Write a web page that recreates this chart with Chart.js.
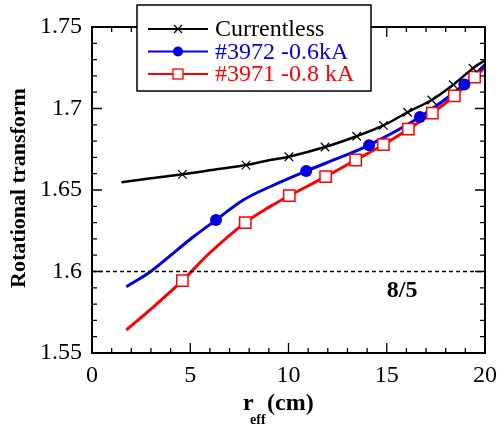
<!DOCTYPE html>
<html>
<head>
<meta charset="utf-8">
<script src="https://cdn.jsdelivr.net/npm/chart.js@4.4.0/dist/chart.umd.min.js"></script>
<style>
  html, body { margin: 0; padding: 0; background: #fff; }
  #wrap { width: 498px; height: 426px; }
</style>
</head>
<body>
<div id="wrap"><canvas id="myChart" width="498" height="426"></canvas></div>
<script>
// Datos (r_eff en cm, transformada rotacional)
const seriesLabels = ["Currentless", "#3972 -0.6kA", "#3971 -0.8 kA"];
const seriesColors = ["#000000", "#0000e0", "#ff0000"];

// curvas
const blackX = [1.5, 3.0, 4.6, 6.2, 7.84, 9.06, 10.02, 11.86, 13.47, 14.83, 16.06, 17.29, 18.39, 19.39, 20];
const blackY = [1.6547, 1.6572, 1.6596, 1.6624, 1.6653, 1.6684, 1.6704, 1.6764, 1.683, 1.6896, 1.6977, 1.7052, 1.7146, 1.7247, 1.7296];
const blueX = [1.75, 2.95, 4.31, 5.16, 6.31, 7.7, 9.06, 10.9, 12.62, 14.1, 16.69, 18.95, 20];
const blueY = [1.5907, 1.5997, 1.613, 1.6213, 1.6316, 1.6439, 1.652, 1.6616, 1.67, 1.6775, 1.6948, 1.7147, 1.727];
const redX = [1.75, 2.95, 4.6, 6.0, 7.8, 9.06, 10.04, 11.89, 13.42, 14.83, 16.1, 17.32, 18.44, 19.47, 20];
const redY = [1.5641, 1.5764, 1.5944, 1.6115, 1.63, 1.6398, 1.6465, 1.6582, 1.6684, 1.6778, 1.6873, 1.6972, 1.7078, 1.7193, 1.7252];

// marcadores
const blackMarkX = [4.6, 7.84, 10.02, 11.86, 13.47, 14.83, 16.06, 17.29, 18.39, 19.39];
const blackMarkY = [1.6596, 1.6653, 1.6704, 1.6764, 1.683, 1.6896, 1.6977, 1.7052, 1.7146, 1.7247];
const blueMarkX = [6.31, 10.9, 14.1, 16.69, 18.95];
const blueMarkY = [1.6316, 1.6616, 1.6775, 1.6948, 1.7147];
const redMarkX = [4.6, 7.8, 10.04, 11.89, 13.42, 14.83, 16.1, 17.32, 18.44, 19.47];
const redMarkY = [1.5944, 1.63, 1.6465, 1.6582, 1.6684, 1.6778, 1.6873, 1.6972, 1.7078, 1.7193];

// línea de referencia 8/5
const resonanceY = 1.6;
const resonanceLabel = "8/5";

const xTickStep = 5, xMinorStep = 1;
const yTickStep = 0.05, yMinorStep = 0.01;

function toPoints(xs, ys) {
  return xs.map((x, i) => ({ x: x, y: ys[i] }));
}

const SERIF = "'Liberation Serif', 'Times New Roman', serif";

// Marco, ticks interiores, línea discontinua, títulos y leyenda
const framePlugin = {
  id: "frame",
  afterDatasetsDraw(chart) {
    const ctx = chart.ctx;
    const a = chart.chartArea;
    const xs = chart.scales.x, ys = chart.scales.y;
    ctx.save();

    // línea 8/5
    const yr = ys.getPixelForValue(resonanceY);
    ctx.strokeStyle = "#000";
    ctx.lineWidth = 1.6;
    ctx.setLineDash([4, 3]);
    ctx.beginPath();
    ctx.moveTo(a.left, yr);
    ctx.lineTo(a.right, yr);
    ctx.stroke();
    ctx.setLineDash([]);
    ctx.font = "bold 24px " + SERIF;
    ctx.fillStyle = "#000";
    ctx.textAlign = "center";
    ctx.textBaseline = "middle";
    ctx.fillText(resonanceLabel, xs.getPixelForValue(15.78), ys.getPixelForValue(1.588));

    // ticks
    ctx.lineWidth = 1.3;
    ctx.beginPath();
    for (let v = xs.min; v <= xs.max + 1e-9; v += xMinorStep) {
      const px = xs.getPixelForValue(v);
      const len = Math.abs(v % xTickStep) < 1e-9 ? 10 : 5;
      ctx.moveTo(px, a.bottom); ctx.lineTo(px, a.bottom - len);
      ctx.moveTo(px, a.top); ctx.lineTo(px, a.top + len);
    }
    for (let k = 0; k <= Math.round((ys.max - ys.min) / yMinorStep); k++) {
      const v = ys.min + k * yMinorStep;
      const py = ys.getPixelForValue(v);
      const len = k % 5 === 0 ? 10 : 5;
      ctx.moveTo(a.left, py); ctx.lineTo(a.left + len, py);
      ctx.moveTo(a.right, py); ctx.lineTo(a.right - len, py);
    }
    ctx.stroke();

    // marco
    ctx.lineWidth = 2;
    ctx.strokeRect(a.left, a.top, a.right - a.left, a.bottom - a.top);

    // título eje Y
    ctx.save();
    ctx.translate(19, (a.top + a.bottom) / 2 - 2);
    ctx.rotate(-Math.PI / 2);
    ctx.font = "bold 22px " + SERIF;
    ctx.textAlign = "center";
    ctx.textBaseline = "middle";
    ctx.fillText("Rotational transform", 0, 0);
    ctx.restore();

    // título eje X con subíndice
    ctx.textAlign = "left";
    ctx.textBaseline = "alphabetic";
    ctx.font = "bold 24px " + SERIF;
    ctx.fillText("r", 243, 410);
    ctx.font = "bold 14px " + SERIF;
    ctx.fillText("eff", 250, 424);
    ctx.font = "bold 24px " + SERIF;
    ctx.fillText("(cm)", 267, 410);

    // leyenda
    const bx = 137, by = 5, bw = 234, bh = 86;
    ctx.fillStyle = "#fff";
    ctx.fillRect(bx, by, bw, bh);
    ctx.strokeStyle = "#000";
    ctx.lineWidth = 1.5;
    ctx.strokeRect(bx, by, bw, bh);
    const rows = [29, 51.5, 74];
    ctx.font = "24px " + SERIF;
    ctx.textBaseline = "middle";
    rows.forEach((ry, i) => {
      const c = seriesColors[i];
      ctx.strokeStyle = c;
      ctx.lineWidth = 2.2;
      ctx.beginPath();
      ctx.moveTo(148, ry); ctx.lineTo(208, ry);
      ctx.stroke();
      if (i === 0) {
        ctx.lineWidth = 1.2;
        ctx.beginPath();
        ctx.moveTo(174, ry - 4); ctx.lineTo(182, ry + 4);
        ctx.moveTo(174, ry + 4); ctx.lineTo(182, ry - 4);
        ctx.stroke();
      } else if (i === 1) {
        ctx.fillStyle = c;
        ctx.beginPath();
        ctx.arc(178, ry, 5, 0, Math.PI * 2);
        ctx.fill();
      } else {
        ctx.fillStyle = "#fff";
        ctx.fillRect(173, ry - 5, 10, 10);
        ctx.lineWidth = 1.3;
        ctx.strokeRect(173, ry - 5, 10, 10);
      }
      ctx.fillStyle = c;
      ctx.textAlign = "left";
      ctx.fillText(seriesLabels[i], 215, ry + 1);
    });
    ctx.restore();
  }
};

const lineStyle = { showLine: true, pointRadius: 0, fill: false, tension: 0.35, order: 2 };

const ctx = document.getElementById("myChart");
const myChart = new Chart(ctx, {
  type: "scatter",
  data: {
    datasets: [
      Object.assign({ label: seriesLabels[0], data: toPoints(blackX, blackY), borderColor: seriesColors[0], borderWidth: 2.5 }, lineStyle),
      Object.assign({ label: seriesLabels[1], data: toPoints(blueX, blueY), borderColor: seriesColors[1], borderWidth: 3 }, lineStyle),
      Object.assign({ label: seriesLabels[2], data: toPoints(redX, redY), borderColor: seriesColors[2], borderWidth: 3 }, lineStyle),
      {
        label: "m0", data: toPoints(blackMarkX, blackMarkY), showLine: false, order: 1,
        pointStyle: "crossRot", pointRadius: 6, borderColor: "#000", borderWidth: 1.2
      },
      {
        label: "m1", data: toPoints(blueMarkX, blueMarkY), showLine: false, order: 1,
        pointStyle: "circle", pointRadius: 6, backgroundColor: seriesColors[1], borderColor: seriesColors[1], borderWidth: 0
      },
      {
        label: "m2", data: toPoints(redMarkX, redMarkY), showLine: false, order: 1,
        pointStyle: "rect", pointRadius: 8, backgroundColor: "#fff", borderColor: seriesColors[2], borderWidth: 1.5
      }
    ]
  },
  options: {
    responsive: false,
    animation: false,
    layout: { padding: { left: 0, top: 27, right: 13, bottom: 0 } },
    plugins: { legend: { display: false }, tooltip: { enabled: false } },
    scales: {
      x: {
        type: "linear", min: 0, max: 20,
        grid: { display: false, drawTicks: false },
        border: { display: false },
        afterFit(s) { s.height = 73; s.paddingLeft = 0; s.paddingRight = 0; },
        ticks: {
          stepSize: xTickStep, padding: 8, color: "#000",
          font: { family: SERIF, size: 24 },
          callback: (v) => String(v)
        }
      },
      y: {
        type: "linear", min: 1.55, max: 1.75,
        grid: { display: false, drawTicks: false },
        border: { display: false },
        afterFit(s) { s.width = 92; s.paddingTop = 0; s.paddingBottom = 0; },
        ticks: {
          stepSize: yTickStep, padding: 10, color: "#000",
          font: { family: SERIF, size: 24 },
          callback: (v) => String(Number(v.toFixed(2)))
        }
      }
    }
  },
  plugins: [framePlugin]
});
</script>
</body>
</html>
